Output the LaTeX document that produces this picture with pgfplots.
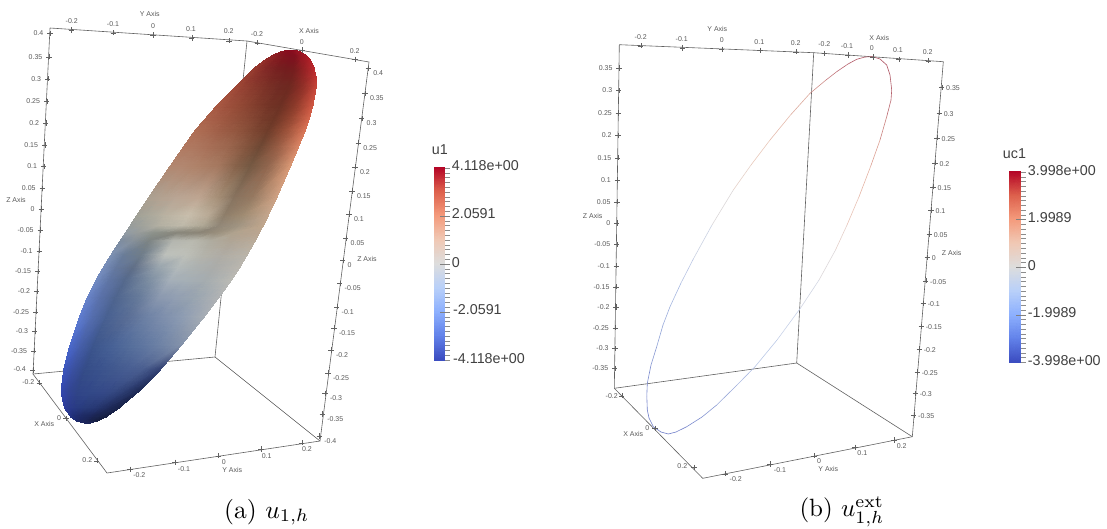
\documentclass[border=0pt]{standalone}
\usepackage{fontspec}
\usepackage{pgfplots}
\usepackage{pgfplotstable}
\pgfplotsset{compat=1.18}
\newfontfamily\lsans{Liberation Sans}
\definecolor{boxc}{gray}{0.38}
\definecolor{txtc}{gray}{0.35}
\tikzset{
  tl/.style={font=\lsans\fontsize{7}{8}\selectfont, text=txtc, inner sep=0pt},
  cbl/.style={font=\lsans\fontsize{14.3}{16}\selectfont, text=black!75, inner sep=0pt, anchor=west},
}
\pgfplotsset{
  box/.style={boxc, line width=0.6pt, no markers},
  tk/.style={only marks, mark=+, mark size=2.6pt, mark options={boxc, line width=0.4pt}},
  cbt/.style={only marks, mark=-, mark size=2.7pt, mark options={black!45, line width=0.5pt}},
  cbT/.style={only marks, mark=-, mark size=5pt, mark options={black!50, line width=0.5pt}},
}
\pgfplotstableread{
x y c
290 50 rgb255=139,10,30
290.4 50 rgb255=139,10,30
290.9 50 rgb255=139,10,30
291.6 50 rgb255=139,10,30
292.2 50 rgb255=139,10,30
292.7 50 rgb255=139,10,30
293.3 50 rgb255=139,10,30
294 50 rgb255=139,10,30

282 51.5 rgb255=140,24,34
283.8 51.5 rgb255=138,20,32
286 51.5 rgb255=136,15,30
289.2 51.5 rgb255=135,12,30
291.9 51.5 rgb255=135,12,30
294.1 51.5 rgb255=140,14,30
296.8 51.5 rgb255=150,20,35
300 51.5 rgb255=156,22,36

273.5 55 rgb255=145,36,38
276.7 55 rgb255=140,30,35
280.5 55 rgb255=134,24,32
286.3 55 rgb255=130,18,30
291.1 55 rgb255=128,16,30
295 55 rgb255=130,16,30
299.7 55 rgb255=146,22,34
305.5 55 rgb255=162,26,38

265 60 rgb255=148,46,42
269.5 60 rgb255=142,40,38
274.9 60 rgb255=132,32,34
283 60 rgb255=125,24,30
289.8 60 rgb255=123,20,30
295.2 60 rgb255=125,20,30
301.9 60 rgb255=150,26,35
310 60 rgb255=174,32,40

254.5 68 rgb255=152,60,48
260.5 68 rgb255=142,50,42
267.6 68 rgb255=130,40,38
278.3 68 rgb255=118,32,32
287.2 68 rgb255=115,28,30
294.4 68 rgb255=118,28,30
303.3 68 rgb255=145,32,35
314 68 rgb255=185,40,45

245 77 rgb255=155,66,52
252.1 77 rgb255=145,58,46
260.6 77 rgb255=134,49,42
273.4 77 rgb255=120,40,35
284 77 rgb255=113,35,32
292.6 77 rgb255=114,34,31
303.2 77 rgb255=143,39,37
316 77 rgb255=190,52,50

237 85 rgb255=160,72,55
245 85 rgb255=150,65,50
254.5 85 rgb255=138,58,45
268.9 85 rgb255=122,48,38
280.8 85 rgb255=112,42,35
290.4 85 rgb255=110,40,32
302.4 85 rgb255=140,45,38
316.7 85 rgb255=195,65,55

217.5 105 rgb255=170,90,68
227 105 rgb255=160,82,62
238.5 105 rgb255=150,75,55
255.7 105 rgb255=130,62,45
270 105 rgb255=115,52,38
281.5 105 rgb255=108,48,35
295.8 105 rgb255=140,58,42
313 105 rgb255=205,85,65

206 118 rgb255=172,100,76
216.4 118 rgb255=165,93,71
228.8 118 rgb255=155,85,63
247.4 118 rgb255=138,74,54
262.9 118 rgb255=120,61,44
275.3 118 rgb255=109,54,38
290.9 118 rgb255=145,68,48
309.5 118 rgb255=210,100,75

195.5 130 rgb255=175,110,85
206.5 130 rgb255=170,105,80
219.7 130 rgb255=160,95,72
239.5 130 rgb255=145,85,62
256 130 rgb255=125,70,50
269.2 130 rgb255=110,60,42
285.7 130 rgb255=150,78,55
305.5 130 rgb255=215,115,85

183.5 147 rgb255=177,122,98
195 147 rgb255=174,120,96
208.8 147 rgb255=168,112,88
229.5 147 rgb255=155,102,78
246.8 147 rgb255=132,85,62
260.6 147 rgb255=110,72,52
277.8 147 rgb255=150,92,68
298.5 147 rgb255=215,132,100

171 165 rgb255=178,135,112
183 165 rgb255=178,135,112
197.4 165 rgb255=175,130,105
219 165 rgb255=165,120,95
237 165 rgb255=135,98,74
251.4 165 rgb255=116,88,66
269.4 165 rgb255=145,102,78
291 165 rgb255=215,150,115

149 197 rgb255=170,160,145
161.8 197 rgb255=178,162,145
177.2 197 rgb255=185,165,148
200.2 197 rgb255=190,165,145
219.4 197 rgb255=165,142,118
234.8 197 rgb255=135,115,95
254 197 rgb255=150,122,98
277 197 rgb255=205,160,130

137 215 rgb255=160,160,150
150.2 215 rgb255=170,168,155
165.9 215 rgb255=185,178,162
189.6 215 rgb255=200,190,172
209.3 215 rgb255=185,170,150
225.1 215 rgb255=142,126,106
244.8 215 rgb255=160,140,115
268.5 215 rgb255=195,165,140

130 226 rgb255=150,155,155
143.3 226 rgb255=160,162,155
159.3 226 rgb255=178,175,162
183.2 226 rgb255=190,185,170
203.2 226 rgb255=175,168,150
219.1 226 rgb255=145,135,120
239.1 226 rgb255=160,148,130
263 226 rgb255=190,165,140

125.5 233 rgb255=145,155,165
138.9 233 rgb255=150,155,155
154.8 233 rgb255=140,145,138
178.9 233 rgb255=135,133,122
198.7 233 rgb255=138,132,118
214.6 233 rgb255=150,140,122
234.6 233 rgb255=175,162,142
259.4 233 rgb255=185,165,145

120 241 rgb255=125,140,160
133.5 241 rgb255=135,145,155
149.5 241 rgb255=125,132,132
174 241 rgb255=180,182,175
194.3 241 rgb255=185,185,175
210.5 241 rgb255=175,172,160
230.7 241 rgb255=175,165,150
255 241 rgb255=185,172,155

111 255 rgb255=125,145,180
124.5 255 rgb255=105,124,152
142.1 255 rgb255=110,124,138
166.3 255 rgb255=190,193,188
186.5 255 rgb255=190,192,185
202.6 255 rgb255=180,180,172
222.8 255 rgb255=175,172,165
247 255 rgb255=185,180,170

103 268 rgb255=120,142,188
116.7 268 rgb255=100,120,158
133.8 268 rgb255=95,110,135
158.2 268 rgb255=150,162,172
178.5 268 rgb255=178,185,186
194.8 268 rgb255=172,178,178
215.1 268 rgb255=170,172,170
239.5 268 rgb255=185,182,175

96 280 rgb255=115,140,195
109.6 280 rgb255=95,117,164
125.8 280 rgb255=85,105,140
150.2 280 rgb255=125,142,162
170.5 280 rgb255=165,175,185
186.8 280 rgb255=165,175,182
207.1 280 rgb255=165,172,175
231.5 280 rgb255=185,185,180

87 298 rgb255=105,132,202
100.2 298 rgb255=90,113,170
115.9 298 rgb255=78,100,142
139.6 298 rgb255=102,122,154
159.3 298 rgb255=138,152,175
175.1 298 rgb255=145,158,178
194.8 298 rgb255=152,164,176
218.5 298 rgb255=175,178,180

79.5 317 rgb255=95,125,210
92 317 rgb255=85,110,175
106.9 317 rgb255=72,96,145
129.3 317 rgb255=90,110,150
148 317 rgb255=110,130,165
162.9 317 rgb255=125,142,172
181.6 317 rgb255=140,155,178
204 317 rgb255=165,172,180

70 345 rgb255=75,105,205
81.2 345 rgb255=70,95,170
94.5 345 rgb255=60,85,140
114.6 345 rgb255=72,98,150
131.3 345 rgb255=85,110,155
144.7 345 rgb255=95,118,160
161.4 345 rgb255=110,130,165
181.5 345 rgb255=130,145,170

63.7 370 rgb255=60,85,190
73.3 370 rgb255=58,80,160
84.9 370 rgb255=52,75,135
102.2 370 rgb255=58,82,140
116.7 370 rgb255=65,88,142
128.2 370 rgb255=70,92,145
142.7 370 rgb255=72,92,142
160 370 rgb255=50,65,115

61 392 rgb255=50,70,175
68.7 392 rgb255=50,68,150
77.9 392 rgb255=48,68,135
91.8 392 rgb255=50,72,135
103.4 392 rgb255=52,72,135
112.6 392 rgb255=52,72,130
124.1 392 rgb255=45,62,115
138 392 rgb255=30,42,85

64.5 408 rgb255=45,60,155
70 408 rgb255=42,58,140
76.5 408 rgb255=40,58,130
86.3 408 rgb255=40,58,120
94.5 408 rgb255=38,55,115
101 408 rgb255=35,50,105
109.2 408 rgb255=30,42,90
119 408 rgb255=25,35,75

71 417 rgb255=35,50,130
74.5 417 rgb255=30,45,115
78.7 417 rgb255=30,42,105
85 417 rgb255=28,40,95
90.3 417 rgb255=28,38,90
94.5 417 rgb255=26,35,80
99.7 417 rgb255=25,35,75
106 417 rgb255=22,30,65

77 421 rgb255=30,42,110
79 421 rgb255=28,40,100
81.4 421 rgb255=28,38,95
85 421 rgb255=28,38,90
88 421 rgb255=26,36,85
90.4 421 rgb255=25,34,78
93.4 421 rgb255=24,32,72
97 421 rgb255=22,30,65

85 423 rgb255=28,38,90
85.5 423 rgb255=28,38,90
86.1 423 rgb255=28,38,90
87 423 rgb255=28,38,90
87.8 423 rgb255=28,38,90
88.4 423 rgb255=28,38,90
89.1 423 rgb255=28,38,90
90 423 rgb255=28,38,90
}\surfa
\pgfplotstableread{
x y c
434 167.7 rgb255=180,4,38
444.7 167.7 rgb255=180,4,38

434 191.7 rgb255=221,96,76
444.7 191.7 rgb255=221,96,76

434 215.8 rgb255=244,154,123
444.7 215.8 rgb255=244,154,123

434 239.8 rgb255=240,200,180
444.7 239.8 rgb255=240,200,180

434 263.9 rgb255=221,221,221
444.7 263.9 rgb255=221,221,221

434 287.9 rgb255=185,208,249
444.7 287.9 rgb255=185,208,249

434 311.9 rgb255=141,176,254
444.7 311.9 rgb255=141,176,254

434 336 rgb255=98,130,234
444.7 336 rgb255=98,130,234

434 360 rgb255=59,76,192
444.7 360 rgb255=59,76,192
}\bara
\pgfplotstableread{
x y c
1009.3 171.7 rgb255=180,4,38
1020.7 171.7 rgb255=180,4,38

1009.3 195.5 rgb255=221,96,76
1020.7 195.5 rgb255=221,96,76

1009.3 219.3 rgb255=244,154,123
1020.7 219.3 rgb255=244,154,123

1009.3 243.2 rgb255=240,200,180
1020.7 243.2 rgb255=240,200,180

1009.3 267 rgb255=221,221,221
1020.7 267 rgb255=221,221,221

1009.3 290.8 rgb255=185,208,249
1020.7 290.8 rgb255=185,208,249

1009.3 314.6 rgb255=141,176,254
1020.7 314.6 rgb255=141,176,254

1009.3 338.5 rgb255=98,130,234
1020.7 338.5 rgb255=98,130,234

1009.3 362.3 rgb255=59,76,192
1020.7 362.3 rgb255=59,76,192
}\barb
\pgfplotstableread{
x y c
872.7 56.7 rgb255=175,85,100
880 59 rgb255=175,85,100
886.7 65 rgb255=175,85,100
890 75 rgb255=175,88,102
891.7 90 rgb255=178,92,105
891 100 rgb255=182,98,108
886.7 116.7 rgb255=190,110,115
880 140 rgb255=215,150,140
870.5 166.7 rgb255=225,170,155
859 196.7 rgb255=232,190,175
847 225 rgb255=232,200,190
835.5 250 rgb255=225,215,212
819 280 rgb255=215,215,222
800.5 308 rgb255=205,213,232
777 340 rgb255=195,207,232
755 366.7 rgb255=180,195,228
737 385 rgb255=165,180,222
716.7 405 rgb255=145,160,215
702 417 rgb255=130,146,208
686.7 426.7 rgb255=120,135,205
676 432 rgb255=112,128,202
668.3 434 rgb255=110,125,200
661 432 rgb255=110,125,200
653.3 426.7 rgb255=110,125,200
649 418 rgb255=110,125,200
647.3 410 rgb255=110,125,200
646.8 396 rgb255=115,130,202
647.3 383.3 rgb255=120,135,205
651 365 rgb255=130,146,208
656.7 346.7 rgb255=140,158,212
663 325 rgb255=150,168,218
670 306.7 rgb255=160,178,222
681 283 rgb255=175,190,226
693.3 259 rgb255=195,205,228
712 225 rgb255=212,216,224
733.3 190 rgb255=226,214,208
751 165 rgb255=232,205,192
770 140 rgb255=232,195,180
790.5 115 rgb255=225,180,165
810 93.3 rgb255=215,160,150
826 80 rgb255=200,130,130
836.7 71.7 rgb255=190,110,120
848 64 rgb255=180,92,105
856.7 59.3 rgb255=175,85,100
865 57 rgb255=175,85,100
872.7 56.7 rgb255=175,85,100
}\contb
\begin{document}
\begin{tikzpicture}
\begin{axis}[
  scale only axis, width=1107pt, height=528pt,
  xmin=0, xmax=1107, ymin=0, ymax=528, y dir=reverse,
  hide axis, clip=false,
]
\path (axis cs:0,0) rectangle (axis cs:1107,528);
% ---------- panel a : box
\addplot[box] coordinates {(50,28) (247,41) (369,62) (320,441) (107,473) (33,374) (50,28)};
\addplot[box] coordinates {(247,41) (215,357)};
\addplot[box] coordinates {(33,374) (215,357) (320,441)};
% ticks
\addplot[tk] coordinates {(71.3,30) (113.3,32.7) (153,35) (191.7,38) (229,40.7)};
\addplot[tk] coordinates {(257.3,42.7) (302,50) (355,59.3)};
\addplot[tk] coordinates {(50,33.3) (49,56.7) (47.7,78.7) (46.7,101.3) (45.7,123) (44.7,145) (43.7,166.3) (42.3,188.3) (41.3,209) (40.3,230) (39.3,250.7) (37.7,271.3) (36.7,291.3) (35.7,311.7) (34.7,331) (33.7,350.7) (32.7,370)};
\addplot[tk] coordinates {(368.3,68.3) (365,93.3) (361.7,118.3) (358.3,142.7) (355,166.7) (352,191) (349,214) (345.7,238.3) (342.7,260.3) (339.7,283.3) (336.7,306.7) (334,327.7) (331,350) (328,372.7) (325,393.3) (322.3,414) (319.3,436)};
\addplot[tk] coordinates {(39.3,382.7) (66,418.3) (96.7,460.7)};
\addplot[tk] coordinates {(130,469.3) (175,462.3) (218.3,455.7) (260.7,449) (301.7,442.7)};
% surface
\addplot[surf, shader=interp, mesh/rows=29, mesh/cols=8, mesh/color input=explicit] table[x=x, y=y, meta=c] {\surfa};
% colour bar a
\addplot[surf, shader=interp, mesh/rows=9, mesh/cols=2, mesh/color input=explicit] table[x=x, y=y, meta=c] {\bara};
\addplot[cbt] coordinates {(447.4,168) (447.4,172.8) (447.4,177.6) (447.4,182.4) (447.4,187.2) (447.4,192) (447.4,196.8) (447.4,201.6) (447.4,206.4) (447.4,211.2) (447.4,220.8) (447.4,225.6) (447.4,230.4) (447.4,235.2) (447.4,240) (447.4,244.8) (447.4,249.6) (447.4,254.4) (447.4,259.2) (447.4,268.8) (447.4,273.6) (447.4,278.4) (447.4,283.2) (447.4,288) (447.4,292.8) (447.4,297.6) (447.4,302.4) (447.4,307.2) (447.4,316.8) (447.4,321.6) (447.4,326.4) (447.4,331.2) (447.4,336) (447.4,340.8) (447.4,345.6) (447.4,350.4) (447.4,355.2) (447.4,360)};
\addplot[cbT] coordinates {(445,216) (445,264) (445,312)};
% ---------- panel b : box
\addplot[box] coordinates {(619.3,44.7) (813.7,52.7) (943.3,61.7) (912.3,436.7) (702.7,478.3) (614.3,388.3) (619.3,44.7)};
\addplot[box] coordinates {(813.7,52.7) (796.7,363)};
\addplot[box] coordinates {(614.3,388.3) (796.7,363) (912.3,436.7)};
\addplot[tk] coordinates {(640.7,45.7) (682.3,48) (721.7,49.3) (760,50.3) (796,51.7)};
\addplot[tk] coordinates {(824.3,53.3) (847.7,55) (872.7,57) (898.7,59.3) (928.3,60.7)};
\addplot[tk] coordinates {(619,68) (618.7,90.3) (618.3,113) (618,135.3) (617.7,157.7) (617.3,180) (617,201.7) (616.7,223) (616.7,244.3) (616.3,265.7) (616,286.7) (616,307) (615.3,327.7) (615,348.3) (614.7,368.3)};
\addplot[tk] coordinates {(941.7,87.3) (939.3,112.7) (937,137.7) (935,162.7) (933,186.7) (931,210) (929.3,234) (927.3,257.3) (925.7,280.7) (923.3,303.3) (921.3,326.3) (919.3,349) (917.3,371.7) (915.3,393.3) (913.7,415)};
\addplot[tk] coordinates {(621.7,395.7) (655,428.3) (694,467.3)};
\addplot[tk] coordinates {(725,473.7) (770,464) (814,455.7) (855,447.3) (894,440)};
% contour
\addplot[mesh, line width=0.6pt, mesh/color input=explicit] table[x=x, y=y, meta=c] {\contb};
% colour bar b
\addplot[surf, shader=interp, mesh/rows=9, mesh/cols=2, mesh/color input=explicit] table[x=x, y=y, meta=c] {\barb};
\addplot[cbt] coordinates {(1023.2,172) (1023.2,176.8) (1023.2,181.5) (1023.2,186.3) (1023.2,191) (1023.2,195.8) (1023.2,200.6) (1023.2,205.3) (1023.2,210.1) (1023.2,214.9) (1023.2,224.4) (1023.2,229.2) (1023.2,233.9) (1023.2,238.7) (1023.2,243.5) (1023.2,248.2) (1023.2,253) (1023.2,257.8) (1023.2,262.5) (1023.2,272) (1023.2,276.8) (1023.2,281.6) (1023.2,286.3) (1023.2,291.1) (1023.2,295.9) (1023.2,300.6) (1023.2,305.4) (1023.2,310.1) (1023.2,319.6) (1023.2,324.4) (1023.2,329.2) (1023.2,333.9) (1023.2,338.7) (1023.2,343.4) (1023.2,348.2) (1023.2,353) (1023.2,357.7) (1023.2,362.3)};
\addplot[cbT] coordinates {(1021,219.6) (1021,267.3) (1021,314.9)};

% ---------- texts panel a
\node[tl] at (axis cs:149.7,14.3) {Y Axis};
\node[tl] at (axis cs:71.7,20.7) {-0.2};
\node[tl] at (axis cs:113,23.7) {-0.1};
\node[tl] at (axis cs:153,26) {0};
\node[tl] at (axis cs:191,28.7) {0.1};
\node[tl] at (axis cs:228.7,31) {0.2};
\node[tl] at (axis cs:309,31.3) {X Axis};
\node[tl] at (axis cs:257,34) {-0.2};
\node[tl] at (axis cs:301.7,42) {0};
\node[tl] at (axis cs:354.7,51) {0.2};
\node[tl] at (axis cs:16,200) {Z Axis};
\node[tl] at (axis cs:367,259) {Z Axis};
\foreach \px/\py/\lab in {43.5/33.3/0.4,42.5/56.7/0.35,41.2/78.7/0.3,40.2/101.3/0.25,39.2/123/0.2,38.2/145/0.15,37.2/166.3/0.1,35.8/188.3/0.05,34.8/209/0,33.8/230/-0.05,32.8/250.7/-0.1,31.2/271.3/-0.15,30.2/291.3/-0.2,29.2/311.7/-0.25,28.2/331/-0.3,27.2/350.7/-0.35,26/369/-0.4}{
  \edef\tmp{\noexpand\node[tl,anchor=east] at (axis cs:\px,\py) {\lab};}\tmp
}
\foreach \px/\py/\lab in {373.1/73.3/0.4,369.8/98.3/0.35,366.5/123.3/0.3,363.1/147.7/0.25,359.8/171.7/0.2,356.8/196/0.15,353.8/219/0.1,350.5/243.3/0.05,347.5/265.3/0,344.5/288.3/-0.05,341.5/311.7/-0.1,338.8/332.7/-0.15,335.8/355/-0.2,332.8/377.7/-0.25,329.8/398.3/-0.3,327.1/419/-0.35,324.1/441/-0.4}{
  \edef\tmp{\noexpand\node[tl,anchor=west] at (axis cs:\px,\py) {\lab};}\tmp
}
\node[tl] at (axis cs:28.3,382) {-0.2};
\node[tl] at (axis cs:59,418.3) {0};
\node[tl] at (axis cs:87.3,460) {0.2};
\node[tl] at (axis cs:44.3,424) {X Axis};
\node[tl] at (axis cs:139.3,475.3) {-0.2};
\node[tl] at (axis cs:184,468.7) {-0.1};
\node[tl] at (axis cs:223.7,461.7) {0};
\node[tl] at (axis cs:266.7,455.7) {0.1};
\node[tl] at (axis cs:307,449) {0.2};
\node[tl] at (axis cs:232.3,470) {Y Axis};
% ---------- colour bar a texts
\node[cbl] at (axis cs:431.7,149.3) {u1};
\node[cbl] at (axis cs:451.7,166) {4.118e+00};
\node[cbl] at (axis cs:451.7,214) {2.0591};
\node[cbl] at (axis cs:451.7,262.3) {0};
\node[cbl] at (axis cs:453,310) {-2.0591};
\node[cbl] at (axis cs:453,358.3) {-4.118e+00};
% ---------- texts panel b
\node[tl] at (axis cs:717.3,28.7) {Y Axis};
\node[tl] at (axis cs:640.7,37) {-0.2};
\node[tl] at (axis cs:681.7,39) {-0.1};
\node[tl] at (axis cs:721.7,40.3) {0};
\node[tl] at (axis cs:759.3,41.7) {0.1};
\node[tl] at (axis cs:795.7,43) {0.2};
\node[tl] at (axis cs:879.3,37.7) {X Axis};
\node[tl] at (axis cs:824.3,44.3) {-0.2};
\node[tl] at (axis cs:847,46.3) {-0.1};
\node[tl] at (axis cs:871.7,48) {0};
\node[tl] at (axis cs:898,50) {0.1};
\node[tl] at (axis cs:927.7,52.3) {0.2};
\node[tl] at (axis cs:592.7,216.3) {Z Axis};
\node[tl] at (axis cs:951.7,253.3) {Z Axis};
\foreach \px/\py/\lab in {612.7/68/0.35,612.4/90.3/0.3,612/113/0.25,611.7/135.3/0.2,611.4/157.7/0.15,611/180/0.1,610.7/201.7/0.05,610.4/223/0,610.4/244.3/-0.05,610/265.7/-0.1,609.7/286.7/-0.15,609.7/307/-0.2,609/327.7/-0.25,608.7/348.3/-0.3,608.4/368.3/-0.35}{
  \edef\tmp{\noexpand\node[tl,anchor=east] at (axis cs:\px,\py) {\lab};}\tmp
}
\foreach \px/\py/\lab in {946/88.3/0.35,943.6/113.7/0.3,941.3/138.7/0.25,939.3/163.7/0.2,937.3/187.7/0.15,935.3/211/0.1,933.6/235/0.05,931.6/258.3/0,930/281.7/-0.05,927.6/304.3/-0.1,925.6/327.3/-0.15,923.6/350/-0.2,921.6/372.7/-0.25,919.6/394.3/-0.3,918/416/-0.35}{
  \edef\tmp{\noexpand\node[tl,anchor=west] at (axis cs:\px,\py) {\lab};}\tmp
}
\node[tl] at (axis cs:611.7,395.7) {-0.2};
\node[tl] at (axis cs:647.3,428.3) {0};
\node[tl] at (axis cs:682.3,466.3) {0.2};
\node[tl] at (axis cs:633.3,434) {X Axis};
\node[tl] at (axis cs:735.7,479) {-0.2};
\node[tl] at (axis cs:780,470) {-0.1};
\node[tl] at (axis cs:819,461.3) {0};
\node[tl] at (axis cs:862.3,453.3) {0.1};
\node[tl] at (axis cs:901.7,445.7) {0.2};
\node[tl] at (axis cs:828.3,469) {Y Axis};
% ---------- colour bar b texts
\node[cbl] at (axis cs:1002.7,154) {uc1};
\node[cbl] at (axis cs:1027.7,170.7) {3.998e+00};
\node[cbl] at (axis cs:1027.7,217.7) {1.9989};
\node[cbl] at (axis cs:1027.7,265.3) {0};
\node[cbl] at (axis cs:1027.7,312.7) {-1.9989};
\node[cbl] at (axis cs:1027.7,361) {-3.998e+00};
% ---------- captions
\node[anchor=base west, inner sep=0pt] at (axis cs:224,518) {\scalebox{2.55}{(a) $u_{1,h}$}};
\node[anchor=base west, inner sep=0pt] at (axis cs:799.3,516.7) {\scalebox{2.5}{(b) $u_{1,h}^{\mathrm{ext}}$}};
\end{axis}
\end{tikzpicture}
\end{document}
